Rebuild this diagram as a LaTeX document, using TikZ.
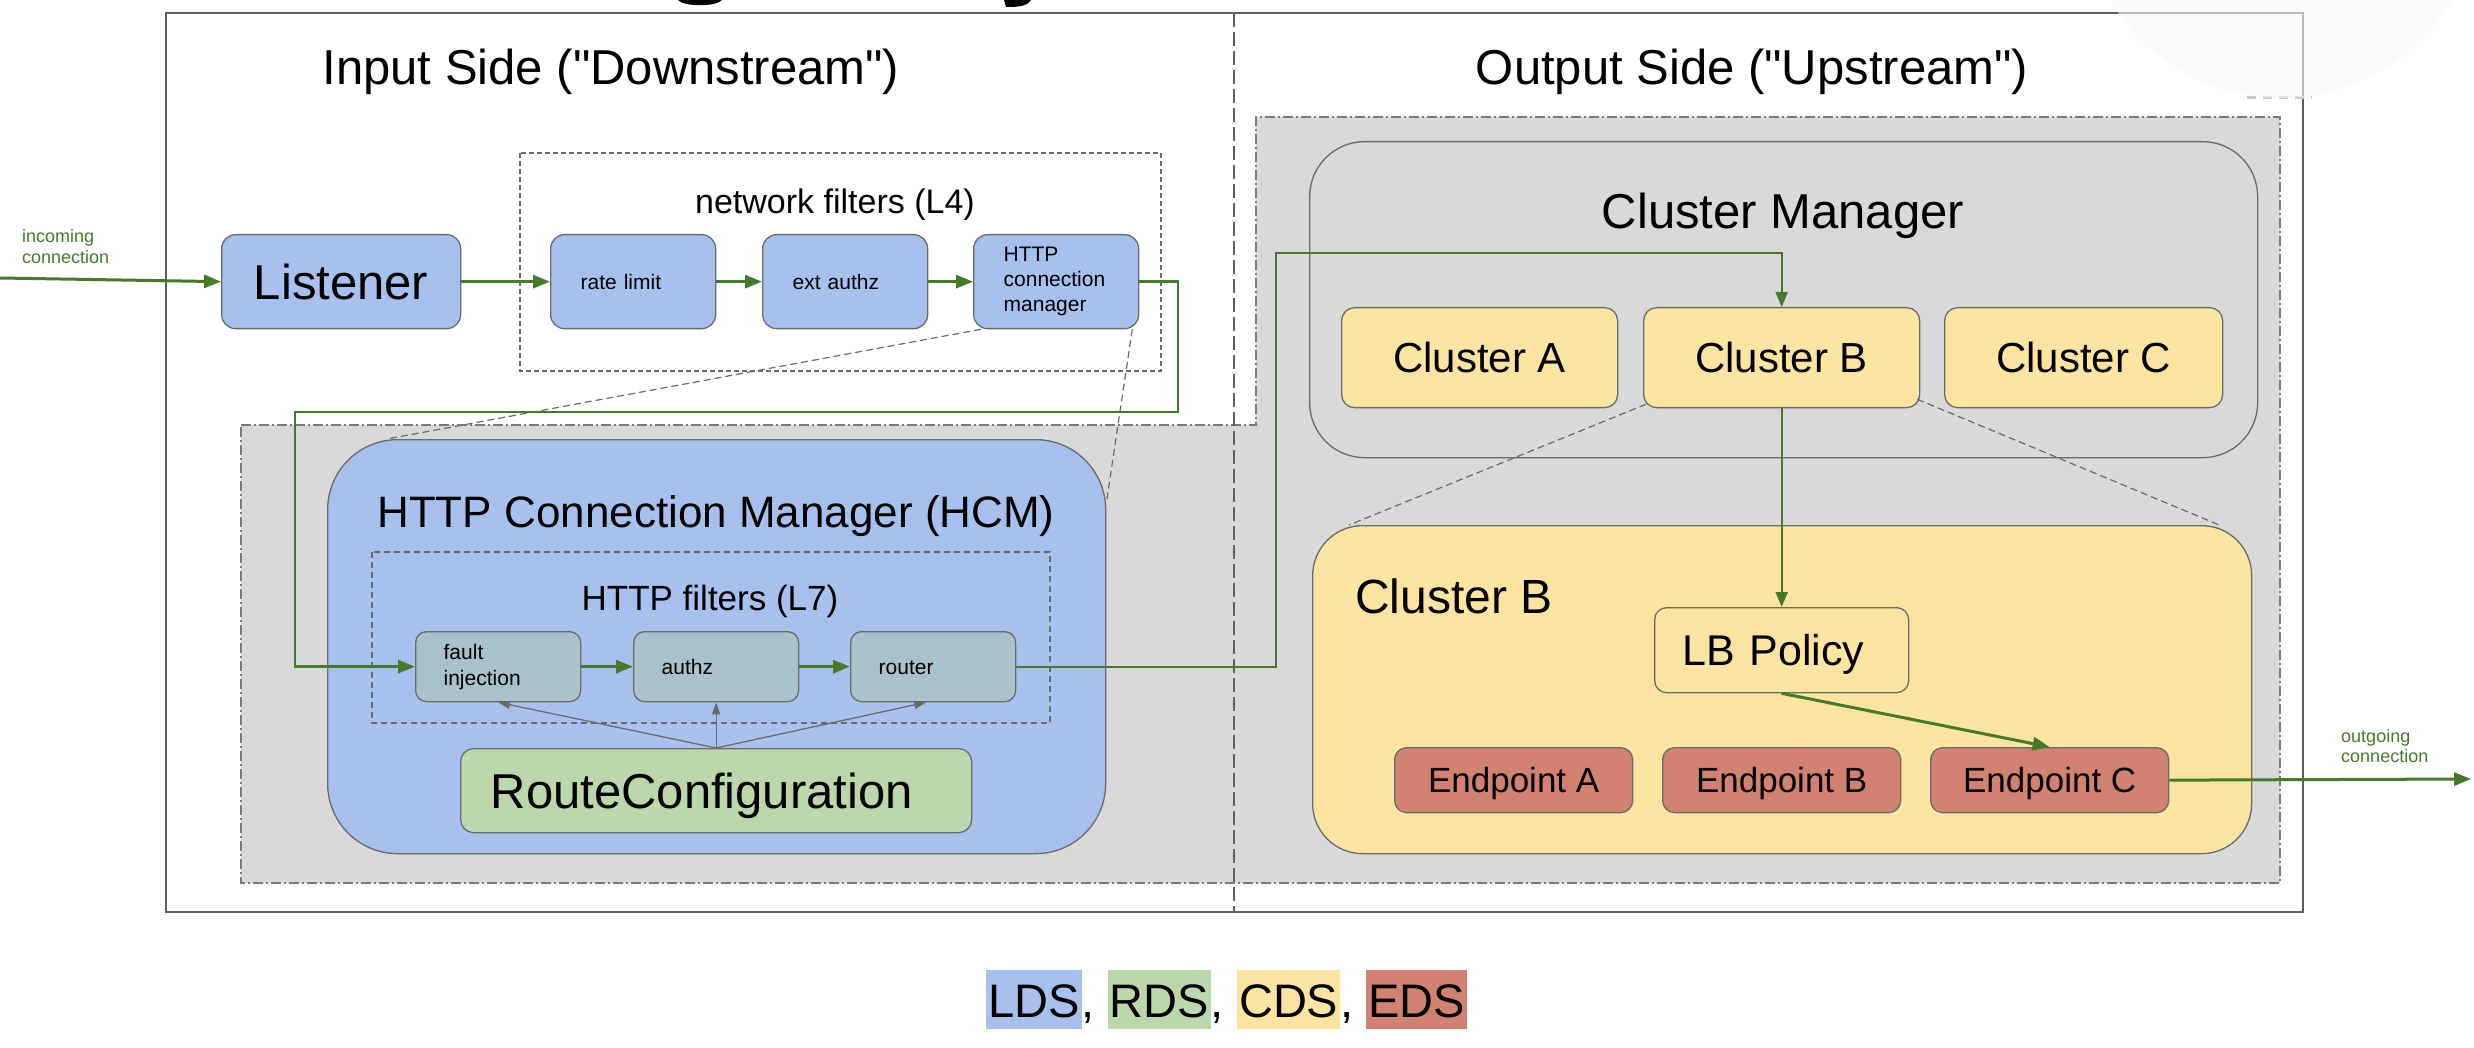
\documentclass[tikz,border=0pt]{standalone}
\usepackage{fontspec}
\setmainfont{Liberation Sans}[Ligatures=TeXOff]
\usetikzlibrary{arrows.meta,calc}
\definecolor{ldsblue}{HTML}{A8C0EE}
\definecolor{rdsgreen}{HTML}{BCD7AB}
\definecolor{cdsyellow}{HTML}{FBE5A1}
\definecolor{edsred}{HTML}{D18270}
\definecolor{filtteal}{HTML}{A9C1C8}
\definecolor{bggray}{HTML}{D9D9D9}
\definecolor{edgegray}{HTML}{6B6B6B}
\definecolor{regiongray}{HTML}{7A7A7A}
\definecolor{framegray}{HTML}{5F5F5F}
\definecolor{flowgreen}{HTML}{447A29}
\definecolor{ghost}{HTML}{F8F9F9}
\definecolor{ghostdash}{HTML}{C8C8C8}
\newcommand{\myfs}[1]{\fontsize{#1}{#1}\selectfont}
\newcommand{\myhl}[2]{\colorbox{#1}{\rule[-12pt]{0pt}{59pt}\hspace{2pt}#2\hspace{2pt}}}
\begin{document}
\begin{tikzpicture}[x=1pt,y=-1pt,
  box/.style={draw=edgegray, line width=1.3pt, inner sep=0pt, anchor=north west},
  flow/.style={draw=flowgreen, line width=3pt, -{Triangle[length=17pt,width=13pt]}},
  thinflow/.style={draw=flowgreen, line width=2.2pt, -{Triangle[length=15pt,width=12pt]}},
  refarrow/.style={draw=edgegray, line width=1.3pt, -{Triangle[length=12pt,width=8pt]}},
  zoomline/.style={draw=edgegray, line width=1.2pt, dash pattern=on 7pt off 4pt},
  lbl/.style={anchor=base, inner sep=0pt},
  filt/.style={box, rounded corners=14pt, fill=ldsblue, minimum height=94pt, inner xsep=30pt, text width=105pt, align=left},
  httpf/.style={box, rounded corners=11pt, fill=filtteal, minimum height=70pt, inner xsep=28pt, text width=109pt, align=left},
  cluster/.style={box, rounded corners=13pt, fill=cdsyellow, minimum height=100pt, font={\myfs{42}}, text height=30pt, text depth=0pt},
  endpoint/.style={box, rounded corners=12pt, fill=edsred, minimum width=238pt, minimum height=65pt, font={\myfs{35}}, text height=25pt, text depth=0pt}
]
\useasboundingbox (0,0) rectangle (2474,1048);

% outer frame
\draw[framegray, line width=2.2pt] (166,13) rectangle (2303,912);
% gray L-shaped region
\draw[fill=bggray, draw=regiongray, line width=1.2pt, dash pattern=on 10pt off 3pt on 2pt off 3pt]
  (241,425) -- (1256,425) -- (1256,117) -- (2280,117) -- (2280,883) -- (241,883) -- cycle;
% divider
\draw[framegray, line width=1.8pt, dash pattern=on 14pt off 5pt] (1234,13) -- (1234,912);

% titles
\node[lbl, font={\myfs{49}}] (intitle) at (611,85) {Input Side ("Downstream")};
\node[lbl, font={\myfs{49}}] (outtitle) at (1752,85) {Output Side ("Upstream")};

% network filters
\draw[edgegray, line width=1.2pt, dash pattern=on 5pt off 3pt] (520,153) rectangle (1161,371);
\node[lbl, font={\myfs{34}}] (nflbl) at (835,214) {network filters (L4)};

\node[box, rounded corners=14pt, fill=ldsblue, minimum width=239pt, minimum height=94pt,
      font={\myfs{49}}, text height=35pt, text depth=0pt] (listener) at (221,234) {Listener};
\node[filt, font={\myfs{21}}, text height=15pt, text depth=0pt] (rate) at (550,234) {rate limit};
\node[filt, font={\myfs{21}}, text height=15pt, text depth=0pt] (ext) at (762,234) {ext authz};
\node[filt, font={\fontsize{21}{25}\selectfont}] (hcmf) at (973,234) {HTTP\\connection\\manager};

\node[anchor=north west, inner sep=0pt, align=left, text=flowgreen,
      font={\fontsize{18}{21}\selectfont}] (inlbl) at (22,229) {incoming\\connection};

% HCM
\node[box, rounded corners=70pt, fill=ldsblue, minimum width=778pt, minimum height=414pt] (hcm) at (327,439) {};
\node[lbl, font={\myfs{44}}] (hcmlbl) at (716,527) {HTTP Connection Manager (HCM)};
\draw[edgegray, line width=1.2pt, dash pattern=on 6pt off 4pt] (372,552) rectangle (1050,723);
\node[lbl, font={\myfs{35}}] (hflbl) at (710,610) {HTTP filters (L7)};

\node[httpf, font={\fontsize{21}{26}\selectfont}] (fault) at (415,631) {fault\\injection};
\node[httpf, font={\myfs{21}}, text height=15pt, text depth=0pt] (authz) at (633,631) {authz};
\node[httpf, font={\myfs{21}}, text height=15pt, text depth=0pt] (router) at (850,631) {router};

\node[box, rounded corners=13pt, fill=rdsgreen, minimum height=84pt, inner xsep=30pt, text width=451pt,
      align=left, font={\myfs{49}}, text height=35pt, text depth=0pt] (rc) at (460,748) {RouteConfiguration};

% Cluster manager
\node[box, rounded corners=55pt, fill=bggray, minimum width=948pt, minimum height=316pt] (cm) at (1309,141) {};
\node[lbl, font={\myfs{49}}] (cmlbl) at (1783,229) {Cluster Manager};
\node[cluster, minimum width=276pt] (clA) at (1341,307) {Cluster A};
\node[cluster, minimum width=276pt] (clB) at (1643,307) {Cluster B};
\node[cluster, minimum width=278pt] (clC) at (1944,307) {Cluster C};

% Cluster B detail
\node[box, rounded corners=50pt, fill=cdsyellow, minimum width=939pt, minimum height=328pt] (bigB) at (1312,525) {};
\node[anchor=base west, inner sep=0pt, font={\myfs{48}}] (cblbl) at (1355,613) {Cluster B};
\node[box, rounded corners=12pt, fill=cdsyellow, minimum height=85pt, inner xsep=28pt, text width=198pt,
      align=left, font={\myfs{43}}, text height=31pt, text depth=0pt] (lb) at (1654,607) {LB Policy};
\node[endpoint] (epA) at (1394,747) {Endpoint A};
\node[endpoint] (epB) at (1662,747) {Endpoint B};
\node[endpoint] (epC) at (1930,747) {Endpoint C};

\node[anchor=north west, inner sep=0pt, align=left, text=flowgreen,
      font={\fontsize{18}{20}\selectfont}] (outlbl) at (2341,729) {outgoing\\connection};

% zoom (detail) lines
\draw[zoomline] ([xshift=8pt]hcmf.south west) -- ([xshift=60pt]hcm.north west);
\draw[zoomline] ([xshift=-7pt]hcmf.south east) -- ([yshift=-64pt]hcm.north east);
\draw[zoomline] ([xshift=3pt,yshift=4pt]clB.south west) -- ([xshift=37pt]bigB.north west);
\draw[zoomline] ([xshift=-3pt,yshift=9pt]clB.south east) -- ([xshift=-33pt]bigB.north east);

% connectors
\coordinate (inpt) at (0,278);
\coordinate (k1) at (1178,412);
\coordinate (k2) at (295,412);
\coordinate (k3) at (1276,253);
\coordinate (outpt) at (2471,779);
\draw[flow] (inpt) -- (listener.west);
\draw[flow] (listener.east) -- (rate.west);
\draw[flow] (rate.east) -- (ext.west);
\draw[flow] (ext.east) -- (hcmf.west);
\draw[flow, line width=2.5pt] (hcmf.east) -| (k1) -- (k2) |- (fault.west);
\draw[flow] (fault.east) -- (authz.west);
\draw[flow] (authz.east) -- (router.west);
\draw[thinflow] (router.east) -| (k3) -| (clB.north);
\draw[thinflow] (clB.south) -- (lb.north);
\draw[flow] (lb.south) -- (epC.north);
\draw[flow] (epC.east) -- (outpt);

\draw[refarrow] (rc.north) -- (fault.south);
\draw[refarrow] (rc.north) -- (authz.south);
\draw[refarrow] (rc.north) -- ([xshift=-7pt]router.south);

% legend
\node[anchor=base west, inner sep=0pt, font={\myfs{47}}] (legend) at (986,1017)
  {\setlength{\fboxsep}{0pt}\myhl{ldsblue}{LDS}, \myhl{rdsgreen}{RDS}, \myhl{cdsyellow}{CDS}, \myhl{edsred}{EDS}};

% cropped title descenders and faint overlay
\fill[black] (678,0) .. controls (684,7) and (716,7) .. (722,0) -- cycle;
\fill[black] (1004,0) -- (1031,0) .. controls (1027,6) and (1020,7) .. (1006,7) -- cycle;
\draw[ghostdash, line width=3pt, dash pattern=on 9pt off 7pt] (2247,98) -- (2312,98);
\fill[ghost, opacity=0.6] (2281,-100) circle[radius=198pt];
\end{tikzpicture}
\end{document}
